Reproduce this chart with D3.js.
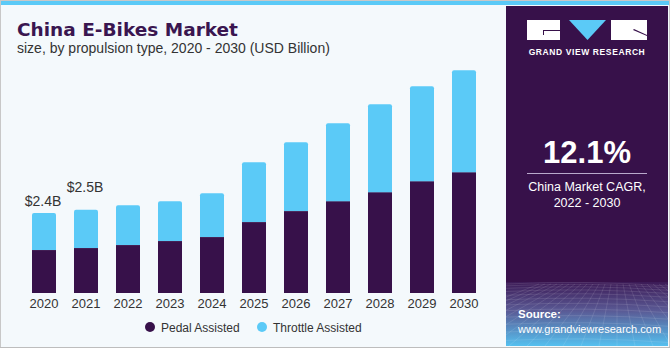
<!DOCTYPE html>
<html>
<head>
<meta charset="utf-8">
<script src="https://cdn.jsdelivr.net/npm/d3@7"></script>
<style>
  body { margin: 0; background: #fff; }
  svg { display: block; font-family: "Liberation Sans", Arial, sans-serif; }
</style>
</head>
<body>
<div class="chart"></div>
<script>
// Chart size
var width = 670;
var height = 350;

// Data (USD Billion)
var years = ['2020', '2021', '2022', '2023', '2024', '2025', '2026', '2027', '2028', '2029', '2030'];
var pedal = [1.29, 1.35, 1.44, 1.56, 1.68, 2.13, 2.46, 2.76, 3.03, 3.36, 3.63];
var throttle = [1.11, 1.15, 1.20, 1.20, 1.32, 1.80, 2.07, 2.34, 2.64, 2.85, 3.06];
var valueLabels = [{ year: '2020', text: '$2.4B' }, { year: '2021', text: '$2.5B' }];
var seriesNames = ['Pedal Assisted', 'Throttle Assisted'];

var purple = '#37114a';
var blue = '#5bcaf7';

var svg = d3.select('.chart')
            .append('svg')
            .attr('width', width)
            .attr('height', height);

var defs = svg.append('defs');
var grad = defs.append('linearGradient')
               .attr('id', 'srcGrad')
               .attr('x1', 0).attr('y1', 0).attr('x2', 0).attr('y2', 1);
grad.append('stop').attr('offset', '0%').attr('stop-color', '#3c1a56');
grad.append('stop').attr('offset', '45%').attr('stop-color', '#5a5a95');
grad.append('stop').attr('offset', '100%').attr('stop-color', '#55c0ef');

// background + frame
svg.append('rect').attr('x', 0.5).attr('y', 0.5).attr('width', width - 1).attr('height', height - 3)
   .attr('fill', '#f4f9fc').attr('stroke', '#c8c8c8');
svg.append('rect').attr('x', 1).attr('y', 1).attr('width', width - 2).attr('height', 4).attr('fill', blue);
svg.append('line').attr('x1', 0).attr('x2', width).attr('y1', 347.5).attr('y2', 347.5)
   .attr('stroke', '#bdbdbd').attr('stroke-width', 1);

// right panel
svg.append('rect').attr('x', 506).attr('y', 6).attr('width', 162).attr('height', 340).attr('fill', '#37114a');
svg.append('rect').attr('x', 506).attr('y', 282).attr('width', 162).attr('height', 64).attr('fill', 'url(#srcGrad)');

// faint mesh in the source box
var mesh = svg.append('g').attr('stroke', '#ffffff').attr('stroke-opacity', 0.18).attr('stroke-width', 0.6).attr('fill', 'none');
d3.range(0, 14).forEach(function(i) {
  var y = 284 + i * i * 0.33 + i * 1.5;
  if (y > 345) return;
  mesh.append('path').attr('d', 'M506,' + y + ' Q587,' + (y - 4) + ' 668,' + (y + 2));
});
d3.range(-8, 18).forEach(function(i) {
  mesh.append('line').attr('x1', 587 + i * 6).attr('y1', 284).attr('x2', 587 + i * 18 - 60).attr('y2', 346);
});

// logo
var logo = svg.append('g');
logo.append('rect').attr('x', 527).attr('y', 20).attr('width', 33).attr('height', 20).attr('fill', '#fff');
logo.append('path').attr('d', 'M543,31 h17 v-1 h-17 z M543,31 v4 h1 v-4 z').attr('fill', purple);
logo.append('path').attr('d', 'M569,20 L606,20 L587.5,40 Z').attr('fill', blue);
logo.append('rect').attr('x', 611).attr('y', 20).attr('width', 36).attr('height', 20).attr('fill', '#fff');
logo.append('path').attr('d', 'M634,29 L647,35 L647,36 L633,30 Z').attr('fill', purple);
svg.append('text').attr('x', 587).attr('y', 55).attr('text-anchor', 'middle')
   .attr('fill', '#fff').style('font-size', '8.5px').style('font-weight', 'bold').style('letter-spacing', '0.6px')
   .text('GRAND VIEW RESEARCH');

// CAGR
svg.append('text').attr('x', 587).attr('y', 163).attr('text-anchor', 'middle')
   .attr('fill', '#fff').style('font-size', '31px').style('font-weight', 'bold')
   .text('12.1%');
svg.append('line').attr('x1', 527).attr('x2', 647).attr('y1', 173.5).attr('y2', 173.5)
   .attr('stroke', '#b9a9cc').attr('stroke-width', 1);
svg.append('text').attr('x', 587).attr('y', 191).attr('text-anchor', 'middle')
   .attr('fill', '#fff').style('font-size', '12.5px').text('China Market CAGR,');
svg.append('text').attr('x', 587).attr('y', 207).attr('text-anchor', 'middle')
   .attr('fill', '#fff').style('font-size', '12.5px').text('2022 - 2030');

// source
svg.append('text').attr('x', 518).attr('y', 318).attr('fill', '#fff')
   .style('font-size', '11.5px').style('font-weight', 'bold').text('Source:');
svg.append('text').attr('x', 518).attr('y', 333).attr('fill', '#fff')
   .style('font-size', '11px').text('www.grandviewresearch.com');

// titles
svg.append('text').attr('x', 17).attr('y', 36).attr('fill', '#3a1650')
   .style('font-size', '18.5px').style('font-weight', 'bold').style('font-family', '"DejaVu Sans", sans-serif')
   .text('China E-Bikes Market');
svg.append('text').attr('x', 17).attr('y', 53).attr('fill', '#333')
   .style('font-size', '14px')
   .text('size, by propulsion type, 2020 - 2030 (USD Billion)');

// scales
var xScale = d3.scaleBand()
               .domain(years)
               .range([14, 494])
               .paddingInner(0.4286)
               .paddingOuter(0.4286);

var yScale = d3.scaleLinear()
               .domain([0, 7])
               .range([293, 60]);

var stackData = years.map(function(y, i) {
  return { year: y, pedal: pedal[i], throttle: throttle[i] };
});
var stacked = d3.stack().keys(['pedal', 'throttle'])(stackData);

// rounded-top bar path
var barPath = function(x, w, y0, y1, r) {
  return 'M' + x + ',' + y0 + ' V' + (y1 + r) + ' Q' + x + ',' + y1 + ' ' + (x + r) + ',' + y1 +
         ' H' + (x + w - r) + ' Q' + (x + w) + ',' + y1 + ' ' + (x + w) + ',' + (y1 + r) +
         ' V' + y0 + ' Z';
};

svg.append('g').selectAll('rect')
   .data(stacked[0])
   .enter()
   .append('rect')
   .attr('x', function(d) { return xScale(d.data.year); })
   .attr('width', xScale.bandwidth())
   .attr('y', function(d) { return yScale(d[1]); })
   .attr('height', function(d) { return yScale(d[0]) - yScale(d[1]); })
   .attr('fill', purple);

svg.append('g').selectAll('path')
   .data(stacked[1])
   .enter()
   .append('path')
   .attr('d', function(d) {
     return barPath(xScale(d.data.year), xScale.bandwidth(), yScale(d[0]), yScale(d[1]), 2);
   })
   .attr('fill', blue);

// value labels (staggered like the original)
svg.append('g').selectAll('text')
   .data(valueLabels)
   .enter()
   .append('text')
   .attr('x', function(d) { return xScale(d.year) + xScale.bandwidth() / 2 - 1; })
   .attr('y', function(d, i) {
     var k = years.indexOf(d.year);
     return yScale(pedal[k] + throttle[k]) - (i === 0 ? 7 : 18);
   })
   .attr('text-anchor', 'middle')
   .attr('fill', '#333')
   .style('font-size', '14px')
   .text(function(d) { return d.text; });

// x axis
var xAxis = d3.axisBottom().scale(xScale).tickSize(0).tickPadding(6);
var axisG = svg.append('g')
               .attr('transform', 'translate(0,' + 293 + ')')
               .call(xAxis);
axisG.select('.domain').remove();
axisG.selectAll('text')
     .style('font-size', '13px')
     .style('font-family', '"Liberation Sans", Arial, sans-serif')
     .attr('fill', '#333');

// legend
var legendX = [150, 262];
var legend = svg.append('g').selectAll('g')
                .data(seriesNames)
                .enter()
                .append('g')
                .attr('transform', function(d, i) { return 'translate(' + legendX[i] + ',327)'; });
legend.append('circle').attr('r', 5).attr('fill', function(d, i) { return i === 0 ? purple : blue; });
legend.append('text').attr('x', 11).attr('y', 4.5).attr('fill', '#333')
      .style('font-size', '12px').text(function(d) { return d; });
</script>
</body>
</html>
